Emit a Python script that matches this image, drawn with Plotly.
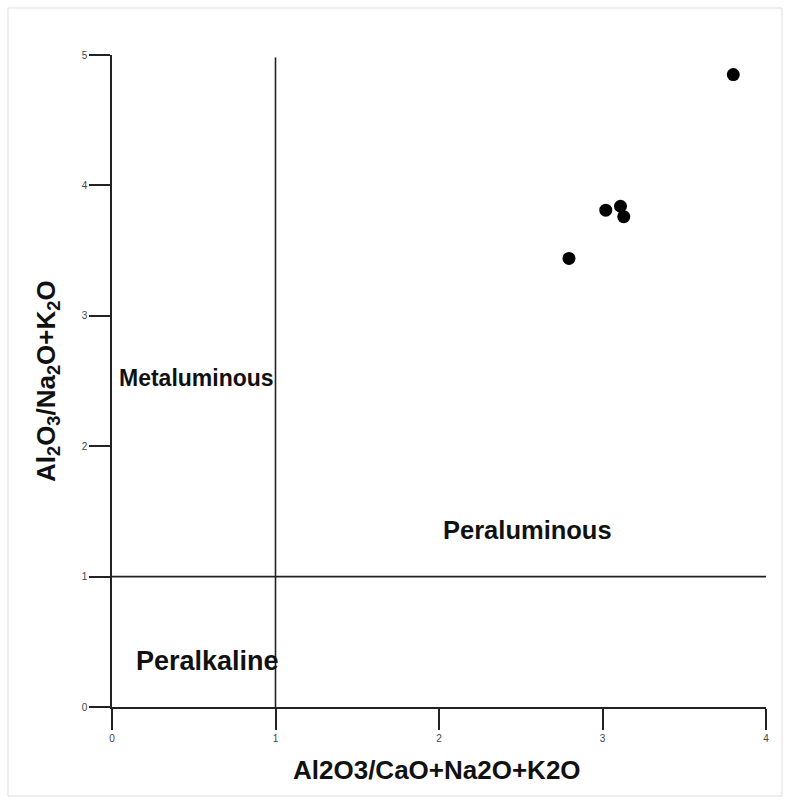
import plotly.graph_objects as go

# Data
x_vals = [3.80, 3.02, 3.11, 3.13, 2.795]
y_vals = [4.85, 3.81, 3.84, 3.76, 3.44]

x_ticks = [0, 1, 2, 3, 4]
y_ticks = [0, 1, 2, 3, 4, 5]

# Boundary lines
div_x = 1
div_y = 1

field_names = ["Metaluminous", "Peraluminous", "Peralkaline"]
field_x = [0.514, 2.54, 0.587]
field_y = [2.52, 1.36, 0.35]
field_sizes = [23, 25.5, 27]

FONT = "Liberation Sans, Arial, sans-serif"

fig = go.Figure()

# boundary lines
fig.add_trace(go.Scatter(x=[div_x, div_x], y=[0, 4.98], mode="lines",
                         line=dict(color="#222", width=1.6), hoverinfo="skip", showlegend=False))
fig.add_trace(go.Scatter(x=[0, 4], y=[div_y, div_y], mode="lines",
                         line=dict(color="#222", width=1.6), hoverinfo="skip", showlegend=False))

fig.add_trace(go.Scatter(x=x_vals, y=y_vals, mode="markers",
                         marker=dict(color="black", size=13), showlegend=False))

for name, fx, fy, fs in zip(field_names, field_x, field_y, field_sizes):
    fig.add_annotation(x=fx, y=fy, xref="x", yref="y", text="<b>%s</b>" % name,
                       showarrow=False, font=dict(family=FONT, size=fs, color="#111"))

fig.add_annotation(xref="paper", yref="paper", x=0.497, y=-0.0966,
                   xanchor="center", yanchor="middle",
                   text="<b>Al2O3/CaO+Na2O+K2O</b>", showarrow=False,
                   font=dict(family=FONT, size=26, color="#111"))
fig.add_annotation(xref="paper", yref="paper", x=-0.0994, y=0.5, textangle=-90,
                   xanchor="center", yanchor="middle",
                   text="<b>Al<sub>2</sub>O<sub>3</sub>/Na<sub>2</sub>O+K<sub>2</sub>O</b>",
                   showarrow=False,
                   font=dict(family=FONT, size=26, color="#111"))

# light frame around the picture
W, H = 790, 804
l, r, t, b = 112, 24, 55, 97
pw, ph = W - l - r, H - t - b
fig.add_shape(type="rect", xref="paper", yref="paper",
              x0=(8 - l) / pw, x1=(782 - l) / pw,
              y0=(H - b - 796) / ph, y1=(H - b - 8) / ph,
              line=dict(color="#dddddd", width=1))

fig.update_xaxes(range=[0, 4], tickvals=x_ticks, ticks="outside", ticklen=21,
                 tickwidth=1.6, tickcolor="#222", showline=True, linecolor="#222",
                 linewidth=1.6, showgrid=False, zeroline=False,
                 tickfont=dict(size=10, color="#444", family=FONT))
fig.update_yaxes(range=[0, 5], tickvals=y_ticks, ticks="outside", ticklen=21,
                 tickwidth=1.6, tickcolor="#222", showline=True, linecolor="#222",
                 linewidth=1.6, showgrid=False, zeroline=False,
                 tickfont=dict(size=10, color="#444", family=FONT))

fig.update_layout(width=W, height=H, margin=dict(l=l, r=r, t=t, b=b),
                  plot_bgcolor="white", paper_bgcolor="white")

fig.write_html("out.html")
